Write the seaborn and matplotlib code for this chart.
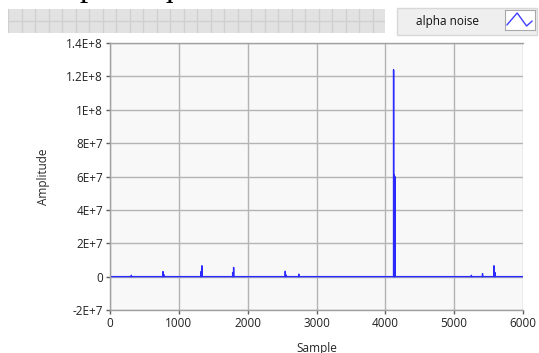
import numpy as np
import pandas as pd
import matplotlib
matplotlib.use("Agg")
import matplotlib.pyplot as plt
import seaborn as sns
from matplotlib.patches import Rectangle

# ---- data ----
n_samples = 6000
spike_idx = [310, 770, 782, 1322, 1336, 1782, 1796, 2546, 2560, 2742,
             4120, 4130, 4138, 5250, 5412, 5578, 5592]
spike_val = [0.8e6, 3.0e6, 1.2e6, 3.0e6, 6.5e6, 2.5e6, 5.5e6, 3.2e6, 1.0e6, 1.5e6,
             1.24e8, 6.1e7, 6.0e7, 0.8e6, 1.8e6, 6.5e6, 2.5e6]
x_ticks = [0, 1000, 2000, 3000, 4000, 5000, 6000]
y_ticks = [-2e7, 0, 2e7, 4e7, 6e7, 8e7, 1e8, 1.2e8, 1.4e8]
y_tick_labels = ["-2E+7", "0", "2E+7", "4E+7", "6E+7", "8E+7", "1E+8", "1.2E+8", "1.4E+8"]
legend_label = "alpha noise"
caption = "the sample sequence."

amp = np.zeros(n_samples)
amp[spike_idx] = spike_val
df = pd.DataFrame({"Sample": np.arange(n_samples), "Amplitude": amp})

sns.set_style("white")
plt.rcParams['font.family'] = ['Open Sans', 'DejaVu Sans']

W, H = 539, 353
fig = plt.figure(figsize=(W / 100, H / 100), dpi=100)
fig.patch.set_facecolor("white")

def fx(px): return px / W
def fy(py): return 1 - py / H

L, R, T, B = 110, 523, 43, 310
ax = fig.add_axes([fx(L), fy(B), fx(R - L), (B - T) / H])
ax.set_facecolor("#f8f8f8")
sns.lineplot(data=df, x="Sample", y="Amplitude", ax=ax, color="#2a2aff",
             linewidth=1.0, estimator=None)
ax.set_xlim(0, 6000)
ax.set_ylim(-2e7, 1.4e8)
ax.set_xticks(x_ticks)
ax.set_yticks(y_ticks)
ax.set_yticklabels(y_tick_labels)
ax.grid(True, color="#b4b4b4", linewidth=1.0)
for s in ["left", "bottom", "top"]:
    ax.spines[s].set_color("#a0a0a0")
    ax.spines[s].set_linewidth(1.0)
ax.spines["right"].set_visible(False)
ax.tick_params(axis="both", direction="out", length=3, width=1, color="#606060",
               labelsize=8.5, labelcolor="#222222", pad=2, left=True, bottom=True)
ax.set_xlabel("Sample", fontsize=8.5, labelpad=9)
ax.set_ylabel("Amplitude", fontsize=8.5, labelpad=12)

# clipped caption text at very top
fig.text(fx(-23), fy(-4), caption, family="Liberation Serif",
         fontsize=24, va="baseline", ha="left", color="black")

# toolbar grid strip
strip = fig.add_axes([fx(8), fy(33), fx(385 - 8), (33 - 9) / H])
strip.set_facecolor("#e2e2e2")
strip.set_xlim(0, 377)
strip.set_ylim(0, 24)
strip.set_xticks(np.arange(0, 377, 13.5))
strip.set_yticks([12])
strip.grid(True, color="#d0d0d0", linewidth=1)
strip.tick_params(length=0, labelbottom=False, labelleft=False)
for s in strip.spines.values():
    s.set_visible(False)

# legend box
fig.patches.append(Rectangle((fx(397), fy(35)), fx(537 - 397), (35 - 8) / H,
                             transform=fig.transFigure, facecolor="#efefef",
                             edgecolor="#d8d8d8", linewidth=1, zorder=-1))
fig.text(fx(447), fy(22), legend_label, fontsize=8.5, ha="center", va="center",
         color="#111111")
icon = fig.add_axes([fx(505), fy(30), fx(30), 20 / H])
icon.set_zorder(5)
icon.set_facecolor("white")
icon.plot([0, 11, 21, 27], [5, 17, 4, 9], color="#4040ff", linewidth=1)
icon.set_xlim(-2, 30)
icon.set_ylim(0, 20)
icon.set_xticks([]); icon.set_yticks([])
for s in icon.spines.values():
    s.set_color("#a8a8a8")

fig.savefig("out.png", dpi=100)
